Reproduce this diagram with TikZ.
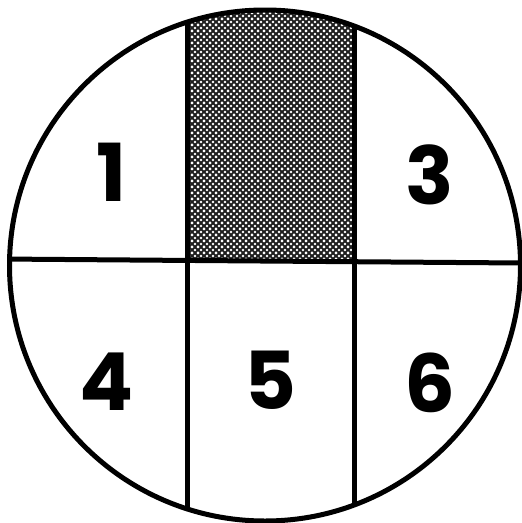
\documentclass[tikz,border=0pt]{standalone}
\usepackage{fontspec}
\setmainfont{Poppins}
\usetikzlibrary{patterns}
\pgfdeclarepatternformonly{bigdots}{\pgfqpoint{-1pt}{-1pt}}{\pgfqpoint{7pt}{7pt}}{\pgfqpoint{6pt}{6pt}}{%
  \pgfpathcircle{\pgfqpoint{0pt}{0pt}}{1.35pt}
  \pgfpathcircle{\pgfqpoint{3pt}{3pt}}{1.35pt}
  \pgfpathcircle{\pgfqpoint{6pt}{6pt}}{1.35pt}
  \pgfpathcircle{\pgfqpoint{0pt}{6pt}}{1.35pt}
  \pgfpathcircle{\pgfqpoint{6pt}{0pt}}{1.35pt}
  \pgfusepath{fill}}
\begin{document}
\begin{tikzpicture}[x=1pt,y=-1pt,
  divline/.style={line width=5pt,black},
  numlabel/.style={font=\fontsize{80}{80}\selectfont\bfseries,inner sep=0pt}]
\useasboundingbox (0,0) rectangle (522,523);
\fill[white] (0,0) rectangle (522,523);
\coordinate (c) at (265,265.5);
\begin{scope}
  \clip (c) circle (255.5);
  \fill[black!88] (187,0) rectangle (354,261);
  \fill[pattern=bigdots, pattern color=white] (187,0) rectangle (354,261);
  \draw[divline] (0,259) -- (522,263);
  \draw[divline] (187,0) -- (187,523);
  \draw[divline] (354,0) -- (354,523);
\end{scope}
\draw[divline] (c) circle (255.5);
\node[numlabel] (n1) at (112,172) {1};
\node[numlabel] (n3) at (430,175) {3};
\node[numlabel] (n4) at (107,382) {4};
\node[numlabel] (n5) at (270,380) {5};
\node[numlabel] (n6) at (430,383) {6};
\end{tikzpicture}
\end{document}
